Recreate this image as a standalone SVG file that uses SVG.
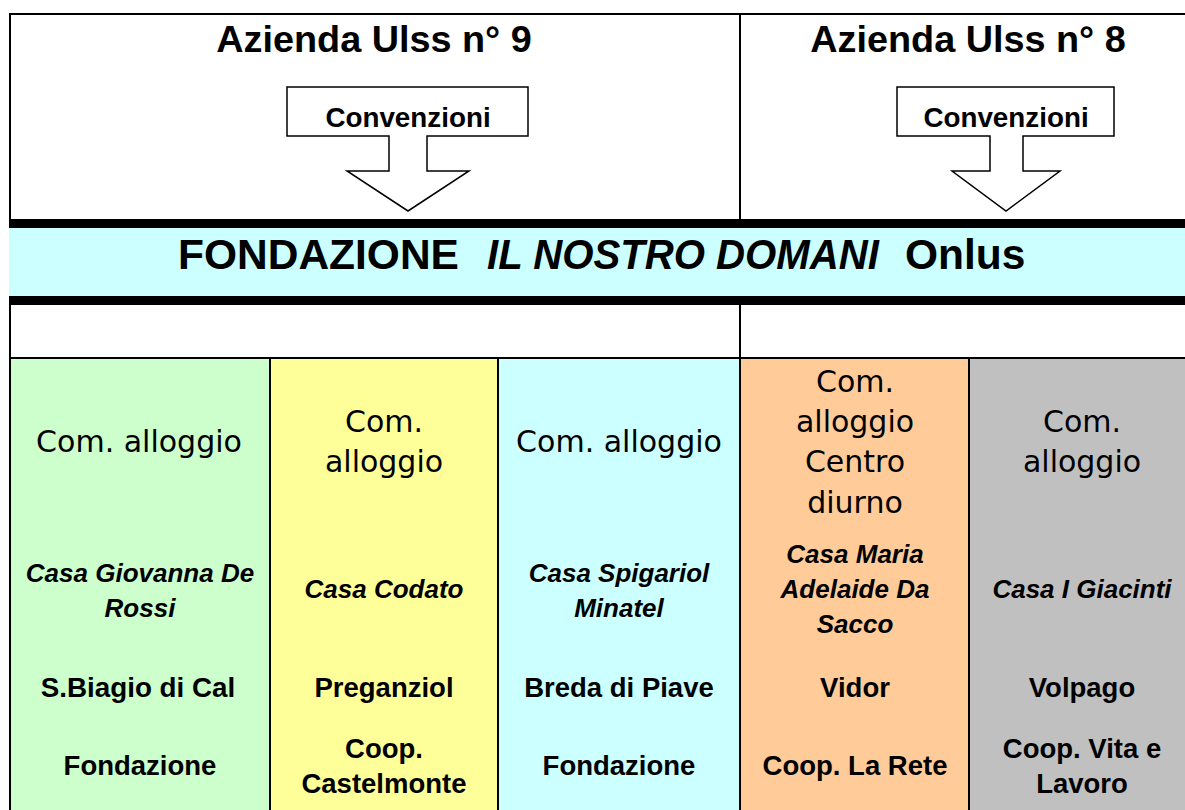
<svg xmlns="http://www.w3.org/2000/svg" width="1185" height="810" viewBox="0 0 1185 810">
<style>
.b{font-family:"Liberation Sans",Arial,sans-serif;font-weight:bold;fill:#000}
.r{font-family:"DejaVu Sans","Liberation Sans",sans-serif;fill:#000}
.bi{font-family:"Liberation Sans",Arial,sans-serif;font-weight:bold;font-style:italic;fill:#000}
.c{text-anchor:middle}
.ln{stroke:#000;stroke-width:2;fill:none}
.arr{fill:#fff;stroke:#000;stroke-width:1.5;stroke-linejoin:miter}
</style>
<rect width="1185" height="810" fill="#fff"/>

<g id="col-backgrounds">
<rect x="10" y="358" width="260" height="452" fill="#CCFFCC"/>
<rect x="270" y="358" width="228" height="452" fill="#FFFF99"/>
<rect x="498" y="358" width="242" height="452" fill="#CCFFFF"/>
<rect x="740" y="358" width="229" height="452" fill="#FFCC99"/>
<rect x="969" y="358" width="226" height="452" fill="#C0C0C0"/>
</g>

<g id="grid">
<line class="ln" x1="9" y1="14" x2="1195" y2="14"/>
<line class="ln" x1="10" y1="13" x2="10" y2="810"/>
<line class="ln" x1="740" y1="14" x2="740" y2="219"/>
<line class="ln" x1="740" y1="305" x2="740" y2="810"/>
<line class="ln" x1="9" y1="358" x2="1195" y2="358"/>
<line class="ln" x1="270" y1="358" x2="270" y2="810"/>
<line class="ln" x1="498" y1="358" x2="498" y2="810"/>
<line class="ln" x1="969" y1="358" x2="969" y2="810"/>
</g>

<g id="ulss9">
<text class="b c" x="374" y="52" font-size="37.8">Azienda Ulss n° 9</text>
</g>
<g id="ulss8">
<text class="b c" x="968" y="52" font-size="37.8">Azienda Ulss n° 8</text>
</g>

<g id="fondazione">
<rect x="9" y="219" width="1186" height="9" fill="#000"/>
<rect x="9" y="228" width="1186" height="68" fill="#CCFFFF"/>
<rect x="9" y="296" width="1186" height="9" fill="#000"/>
<text class="b" x="178" y="269" font-size="42.5">FONDAZIONE</text>
<text class="bi" x="487" y="269" font-size="42.5" textLength="392" lengthAdjust="spacingAndGlyphs">IL NOSTRO DOMANI</text>
<text class="b" x="905" y="269" font-size="42.5">Onlus</text>
</g>

<g id="connectors">
<g id="arrow-ulss9">
<path class="arr" d="M287,87 H528 V136 H427 V171 H469 L408,211 L347,171 H389 V136 H287 Z"/>
<text class="b c" x="408" y="127" font-size="27.8">Convenzioni</text>
</g>
<g id="arrow-ulss8">
<path class="arr" d="M897,87 H1114 V136 H1023 V171 H1060 L1006,211 L952,171 H990 V136 H897 Z"/>
<text class="b c" x="1006" y="127" font-size="27.8">Convenzioni</text>
</g>
</g>

<g id="col-sbiagio">
<text class="r c" x="139" y="452" font-size="30">Com. alloggio</text>
<text class="bi c" x="140" y="582" font-size="26">Casa Giovanna De</text>
<text class="bi c" x="140" y="617" font-size="26">Rossi</text>
<text class="b c" x="138" y="697" font-size="27.8">S.Biagio di Cal</text>
<text class="b c" x="140" y="775" font-size="27.5">Fondazione</text>
</g>

<g id="col-preganziol">
<text class="r c" x="384" y="432" font-size="30">Com.</text>
<text class="r c" x="384" y="472" font-size="30">alloggio</text>
<text class="bi c" x="384" y="598" font-size="26">Casa Codato</text>
<text class="b c" x="384" y="697" font-size="27.5">Preganziol</text>
<text class="b c" x="384" y="758" font-size="27.5">Coop.</text>
<text class="b c" x="384" y="793" font-size="27.5">Castelmonte</text>
</g>

<g id="col-breda">
<text class="r c" x="619" y="452" font-size="30">Com. alloggio</text>
<text class="bi c" x="619" y="582" font-size="26">Casa Spigariol</text>
<text class="bi c" x="619" y="617" font-size="26">Minatel</text>
<text class="b c" x="619" y="697" font-size="27.5">Breda di Piave</text>
<text class="b c" x="619" y="775" font-size="27.5">Fondazione</text>
</g>

<g id="col-vidor">
<text class="r c" x="855" y="392" font-size="30">Com.</text>
<text class="r c" x="855" y="432" font-size="30">alloggio</text>
<text class="r c" x="855" y="472" font-size="30">Centro</text>
<text class="r c" x="855" y="513" font-size="30">diurno</text>
<text class="bi c" x="855" y="563" font-size="26">Casa Maria</text>
<text class="bi c" x="855" y="598" font-size="26">Adelaide Da</text>
<text class="bi c" x="855" y="633" font-size="26">Sacco</text>
<text class="b c" x="855" y="697" font-size="27.5">Vidor</text>
<text class="b c" x="855" y="775" font-size="27.5">Coop. La Rete</text>
</g>

<g id="col-volpago">
<text class="r c" x="1082" y="432" font-size="30">Com.</text>
<text class="r c" x="1082" y="472" font-size="30">alloggio</text>
<text class="bi c" x="1082" y="598" font-size="26">Casa I Giacinti</text>
<text class="b c" x="1082" y="697" font-size="27.5">Volpago</text>
<text class="b c" x="1082" y="758" font-size="27.5">Coop. Vita e</text>
<text class="b c" x="1082" y="793" font-size="27.5">Lavoro</text>
</g>
</svg>
